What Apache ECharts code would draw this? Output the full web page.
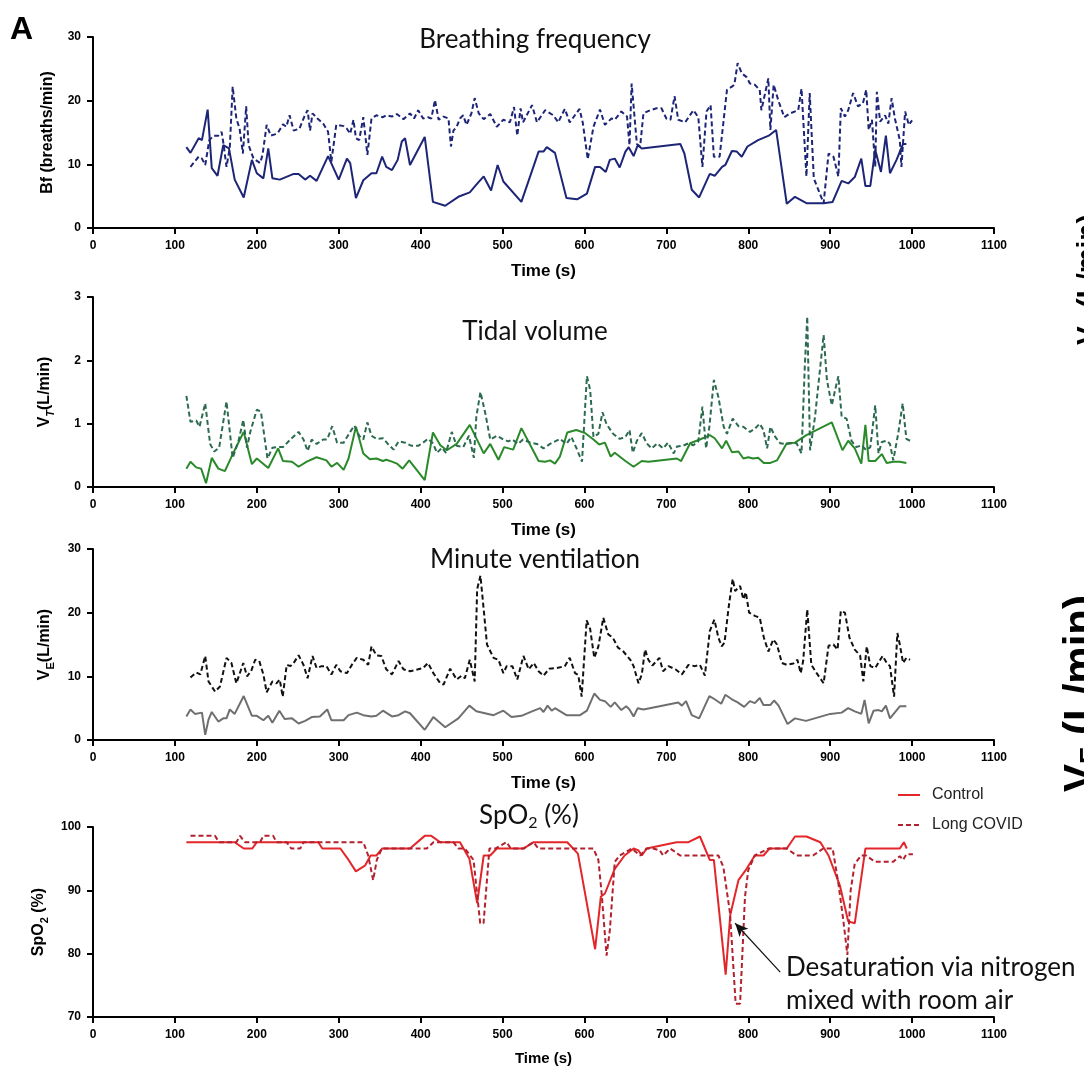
<!DOCTYPE html>
<html>
<head>
<meta charset="utf-8">
<script src="https://cdn.jsdelivr.net/npm/echarts@6/dist/echarts.min.js"></script>
<style>
  html, body { margin: 0; padding: 0; background: #fff; }
  #chart { width: 1084px; height: 1070px; }
</style>
</head>
<body>
<div id="chart"></div>
<script>
// Time axis ticks (s)
const timeTicks = [0, 100, 200, 300, 400, 500, 600, 700, 800, 900, 1000, 1100];

// Breathing frequency (breaths/min): [time s, value]
const bfControl = [[114,12.7],[119,11.8],[129,14.1],[133,13.8],[140,18.6],[145,9.4],[152,8.2],[159,13.0],[166,12.5],[173,7.6],[184,4.8],[194,10.7],[200,8.6],[208,7.8],[214,12.5],[219,7.8],[228,7.6],[245,8.5],[251,8.5],[259,7.6],[265,8.2],[273,7.4],[287,11.3],[300,7.6],[310,10.9],[314,10.2],[321,4.7],[330,7.5],[340,8.6],[346,8.6],[353,11.2],[358,9.6],[365,9.1],[372,10.7],[377,13.6],[381,14.1],[387,9.9],[405,14.3],[415,4.1],[430,3.5],[446,4.9],[460,5.6],[468,6.8],[477,8.1],[486,5.9],[494,9.9],[501,7.3],[523,4.1],[544,12.0],[550,12.0],[554,12.7],[564,11.8],[578,4.7],[591,4.5],[603,5.4],[613,9.6],[619,9.6],[626,8.8],[631,10.7],[637,10.9],[643,9.5],[650,12.0],[654,12.7],[660,11.3],[665,13.0],[670,12.5],[717,13.2],[722,11.7],[731,6.0],[740,4.8],[753,8.5],[759,8.2],[768,9.6],[772,9.9],[780,12.1],[786,12.0],[792,11.2],[799,12.8],[812,13.8],[825,14.5],[827,14.3],[834,15.4],[847,3.8],[857,4.9],[871,3.9],[892,3.9],[903,4.1],[914,7.4],[922,7.0],[930,8.0],[938,10.9],[943,6.6],[949,6.6],[955,12.3],[962,8.8],[968,14.5],[973,8.6],[981,10.7],[989,13.2],[993,13.2]];
const bfLongCovid = [[119,9.6],[129,11.2],[133,10.9],[137,9.9],[142,13.8],[147,14.5],[153,14.5],[157,15.1],[159,13.5],[163,9.6],[167,12.6],[170.5,22.2],[175,17.2],[179,15.6],[183,11.7],[187,19.1],[190,13.0],[196,10.9],[204,10.2],[207,11.5],[212,16.2],[217,14.5],[222,14.7],[226,15.0],[232,16.3],[236,15.9],[240,17.7],[245,15.3],[252,15.6],[258,17.5],[262,18.5],[265,15.3],[268,18.0],[274,17.2],[281,16.4],[287,15.1],[291,10.4],[297,16.2],[306,16.0],[310,15.6],[314,14.8],[318,17.0],[321,14.1],[325,13.8],[330,17.4],[335,11.5],[340,17.2],[346,17.7],[354,17.4],[358,17.7],[365,17.5],[371,17.9],[379,17.1],[387,18.0],[392,17.2],[397,18.5],[403,17.2],[409,17.4],[413,17.2],[417.5,20.1],[422,17.0],[428,17.5],[434,17.2],[437,12.8],[440,15.3],[444,15.9],[448,17.2],[452,17.7],[456,16.2],[462,18.0],[466,20.4],[471,18.0],[477,17.1],[485,17.9],[493,15.9],[501,17.0],[509,16.6],[514,19.0],[518,14.5],[522,18.8],[525,16.6],[536,19.3],[542,16.6],[552,18.5],[562,17.7],[568,16.6],[576,18.7],[582,16.6],[594,18.7],[598,16.5],[604,10.8],[611,15.9],[619,18.6],[625,16.2],[633,17.2],[637,17.0],[645,18.3],[652,17.5],[655,13.0],[657.6,22.7],[660,22.7],[664,13.2],[668,12.8],[672,18.0],[680,18.5],[688,18.8],[694,18.8],[700,17.2],[705,17.0],[710,20.7],[714.5,17.0],[723,16.6],[733,18.5],[739,17.4],[744,9.6],[749,18.3],[754,19.3],[758,11.2],[765,11.2],[774,21.7],[780,22.2],[783,22.5],[787,25.9],[792,24.3],[798,23.7],[802,22.7],[808,22.5],[814,21.7],[816,18.5],[824.5,23.5],[827,15.4],[831,22.5],[837,19.9],[844,17.4],[851,18.0],[861,18.5],[865,21.9],[871,8.1],[875,21.2],[880,7.8],[892,3.9],[898,11.7],[904,11.2],[910,8.1],[913,18.8],[918,17.5],[922,18.5],[928,21.2],[934,19.1],[940,19.6],[944,21.7],[947,15.4],[951,17.0],[955,9.6],[957,21.4],[961,16.7],[967,17.7],[971,16.4],[975,20.4],[979,17.2],[985,13.8],[987,9.6],[991.5,18.3],[996,16.2],[1000,16.9]];

// Tidal volume (L/min)
const vtControl = [[114,0.29],[119,0.40],[126,0.31],[132,0.29],[138,0.06],[145,0.46],[153,0.29],[161,0.25],[171,0.53],[184,0.87],[194,0.36],[200,0.45],[214,0.30],[226,0.61],[232,0.41],[243,0.40],[251,0.32],[261,0.40],[273,0.47],[285,0.42],[291,0.32],[298,0.38],[306,0.27],[312,0.45],[321,0.95],[330,0.53],[338,0.44],[346,0.45],[354,0.41],[358,0.43],[365,0.40],[371,0.37],[378,0.29],[386,0.42],[405,0.11],[415,0.86],[424,0.66],[432,0.58],[444,0.68],[460,0.98],[477,0.53],[485,0.68],[495,0.43],[502,0.63],[513,0.59],[523,0.93],[534,0.66],[544,0.41],[552,0.40],[558,0.42],[564,0.37],[570,0.48],[579,0.86],[590,0.90],[601,0.85],[611,0.75],[618,0.67],[625,0.70],[632,0.48],[637,0.54],[650,0.41],[660,0.32],[670,0.41],[678,0.40],[713,0.45],[718,0.41],[729,0.69],[741,0.75],[753,0.82],[759,0.77],[768,0.61],[773,0.73],[780,0.55],[788,0.56],[794,0.45],[800,0.47],[806,0.45],[812,0.46],[819,0.38],[827,0.38],[835,0.42],[847,0.69],[857,0.70],[871,0.82],[902,1.02],[915,0.58],[922,0.73],[930,0.61],[938,0.37],[943,0.98],[947,0.41],[955,0.41],[963,0.52],[969,0.38],[977,0.40],[985,0.40],[993,0.38]];
const vtLongCovid = [[114,1.44],[119,1.03],[126,1.05],[130,0.95],[137,1.32],[143,0.68],[148,0.56],[154,0.62],[163,1.35],[170.5,0.46],[177.5,0.72],[183.5,1.06],[188,0.62],[192,0.87],[200,1.22],[205,1.19],[213,0.45],[219,0.62],[224,0.63],[232,0.63],[241,0.75],[251,0.87],[257,0.75],[262,0.57],[267,0.75],[273,0.68],[281,0.75],[286,0.75],[292,0.96],[298,0.70],[306,0.70],[314,0.87],[319,0.97],[325,0.81],[330,0.75],[335,1.02],[340,0.81],[346,0.76],[354,0.77],[360,0.68],[367,0.59],[373,0.72],[381,0.70],[389,0.65],[397,0.65],[403,0.70],[409,0.76],[415,0.69],[420,0.54],[426,0.62],[431,0.54],[438,0.87],[444,0.65],[452,0.63],[459,0.81],[465,0.46],[468,1.11],[473,1.50],[479,1.16],[485,0.75],[493,0.81],[501,0.75],[507,0.72],[512,0.75],[519,0.68],[525,0.75],[534,0.70],[542,0.68],[550,0.61],[558,0.68],[570,0.76],[578,0.68],[584,0.79],[590,0.62],[597,0.40],[603,1.75],[607,1.53],[611,0.79],[617,0.84],[622,1.18],[627,0.99],[635,0.84],[643,0.76],[650,0.79],[655,0.90],[659,0.54],[664,0.73],[670,0.85],[676,0.69],[682,0.61],[689,0.69],[696,0.61],[702,0.70],[709,0.53],[713,0.64],[720,0.65],[727,0.69],[733,0.66],[739,0.72],[744,1.27],[748.5,0.61],[752.5,0.95],[758,1.69],[763.5,1.42],[770,0.95],[774,0.84],[781,1.08],[788,0.96],[794,0.95],[802,0.87],[808,0.92],[814,1.00],[818.5,0.90],[823,0.61],[827,0.95],[833,0.79],[839,0.69],[847,0.68],[853,0.69],[859,0.69],[865,0.53],[869,1.90],[872,2.69],[875.5,0.58],[881.5,1.11],[887.5,1.85],[892,2.40],[896,1.69],[902,1.29],[906,1.53],[910,1.75],[914,1.11],[920,1.08],[926,0.73],[932,0.63],[938.5,0.66],[944,0.58],[949,0.63],[955,1.29],[959,0.53],[963,0.71],[969,0.73],[973,0.68],[977,0.42],[983,0.84],[988.5,1.32],[993,0.76],[997.5,0.73]];

// Minute ventilation (L/min)
const veControl = [[114,3.7],[119,4.8],[124.5,4.1],[133,4.3],[137,0.8],[141,3.2],[145,4.4],[153,2.9],[159,3.4],[163,3.4],[167,4.8],[173,4.1],[184,6.9],[194,3.8],[200,3.8],[208,3.1],[214,3.8],[219,2.7],[227.5,4.6],[234,3.3],[243,3.4],[251,2.6],[259,3.0],[267,3.6],[277,3.7],[286,4.8],[291,3.1],[306,3.1],[312,3.9],[322,4.3],[330,3.9],[340,3.7],[346,3.8],[354,4.6],[365,3.7],[373,3.9],[381,4.5],[387,4.2],[405,1.6],[415.5,3.6],[430,2.0],[446,3.4],[459.5,5.4],[468,4.5],[489,3.9],[501,4.6],[511,3.6],[523,3.8],[536,4.5],[546,5.0],[550,4.4],[555,5.4],[560,4.6],[564,5.0],[578,3.9],[594.6,3.9],[603,4.6],[612,7.3],[619,6.3],[625,6.1],[632,5.2],[637,5.9],[645,4.7],[651,5.3],[655,4.8],[660,3.7],[665,5.0],[672,4.8],[714.5,5.9],[719,5.4],[724,6.1],[731,3.9],[740,3.4],[752.5,6.9],[759,6.4],[767,5.7],[772,7.1],[780,6.4],[787,5.9],[789,6.2],[795,5.2],[802,6.1],[808,5.8],[814,6.6],[818.5,5.5],[827,5.5],[831.5,6.2],[837,5.4],[848,2.5],[857,3.4],[870.5,3.0],[900,4.1],[914,4.3],[922,5.0],[930,4.5],[938,4.1],[942,6.3],[947,2.6],[953,4.6],[959,4.7],[963,4.5],[968,5.4],[973,3.4],[985,5.3],[993,5.3]];
const veLongCovid = [[119,9.8],[126,10.6],[131,10.3],[137,13.2],[141,9.2],[149,7.6],[155,8.4],[163,12.9],[169,12.1],[175,8.9],[183.5,12.1],[188,10.0],[193,10.8],[198,12.6],[203,12.4],[208,10.3],[212,7.5],[219,9.2],[224,8.9],[228,9.5],[231.6,6.8],[236.5,11.8],[241,11.6],[245,12.1],[251,13.3],[257,11.8],[262,9.7],[268,13.2],[273,11.3],[279,11.6],[285,11.6],[291,10.3],[297,11.8],[302,10.8],[310,10.5],[316,11.8],[322,12.9],[330,12.6],[336,11.8],[340,14.7],[346,13.3],[352,13.2],[358,11.1],[365,10.3],[373,12.4],[379,11.1],[387,10.8],[397,11.1],[403,11.3],[409,12.1],[415.5,10.5],[424,8.9],[428,8.7],[436,11.2],[444,9.5],[450,10.1],[454,9.7],[460,12.6],[466,9.2],[469,23.7],[473,25.8],[477,20.5],[481,15.0],[489,12.9],[495,12.6],[501,10.5],[505,11.6],[512,11.6],[518,9.5],[525.5,13.2],[532,11.1],[538,12.1],[544,10.8],[550,10.1],[557,11.2],[566,11.3],[576,11.6],[582,12.9],[588.5,10.5],[592.5,10.2],[596.6,6.8],[602.7,18.8],[607,17.4],[612,12.9],[617,14.7],[623,19.2],[629,16.6],[634.5,16.1],[641,14.5],[647.5,13.9],[656,12.6],[660,11.6],[666,8.9],[670,10.3],[674,14.2],[678,12.6],[683,11.7],[691.5,12.9],[696,10.8],[702.5,11.6],[711,11.1],[719,10.3],[727,11.8],[735,11.6],[741,11.8],[747,10.1],[753,17.1],[758.6,18.9],[763.5,16.1],[767.5,14.7],[771,15.3],[776,20.8],[778.6,23.2],[781,25.3],[784,23.4],[790,24.2],[794,22.1],[797,23.2],[801,20.0],[808,19.5],[814,19.2],[819,16.1],[824.5,13.9],[830.6,15.8],[835,15.0],[841,12.1],[847,11.8],[855,12.0],[860,12.6],[864,10.5],[867,12.4],[872,20.5],[877,11.8],[883.5,10.5],[892,8.9],[898,14.8],[904,15.0],[909,14.2],[913,20.3],[918,20.0],[923.5,16.1],[930,14.2],[936.5,13.3],[940.5,9.2],[944.6,14.7],[949,11.6],[955,11.3],[964,13.2],[969,12.1],[973,11.6],[978,6.8],[982,16.8],[985,15.0],[989,12.1],[993,12.9],[997.5,12.6]];

// SpO2 (%)
const spo2Control = [[114,97.6],[173,97.6],[184,96.6],[194.5,96.6],[200,97.6],[275,97.6],[280,96.6],[302,96.6],[312,94.8],[321,93.0],[332,93.9],[339,95.5],[346,95.5],[353,96.6],[387,96.6],[405,98.6],[413,98.6],[424,97.6],[448,97.6],[459.5,95.0],[469,88.0],[477,95.5],[485,95.5],[493,96.6],[525.5,96.6],[538,97.6],[579,97.6],[592,95.8],[613,80.7],[620,89.0],[625,89.5],[637,93.4],[649,95.5],[660,96.6],[666,96.3],[670,95.5],[676,96.6],[712.5,97.6],[727,97.6],[741,98.5],[753,94.8],[758,94.8],[772.4,76.7],[778,86.1],[788,91.6],[798,93.4],[808,95.5],[818.5,95.5],[826,96.6],[847,96.6],[857,98.5],[871,98.5],[888,97.6],[898,95.5],[912,90.7],[922,85.1],[930,84.8],[943,96.6],[985,96.6],[990,97.6],[993.5,96.6]];
const spo2LongCovid = [[119,98.6],[149,98.6],[154,97.6],[175,97.6],[179.5,98.6],[185.6,97.6],[204,97.6],[208,98.6],[220,98.6],[224,97.6],[236.5,97.6],[242,96.6],[253,96.6],[257,97.6],[330,97.6],[336,95.5],[342,91.6],[346.5,94.8],[352.6,96.6],[407.5,96.6],[415.7,97.6],[440,97.6],[446,96.6],[454,96.6],[464.6,94.8],[472.7,84.8],[476.8,84.8],[484,96.6],[491,96.6],[505,97.6],[510,96.6],[525.5,96.6],[537.7,97.6],[543.8,96.6],[610.8,96.6],[617,94.8],[621,89.5],[627,79.7],[631,83.7],[637,94.5],[643,95.5],[657.6,96.6],[668,95.5],[676,96.6],[684,96.6],[692,96.3],[696,95.5],[704.5,96.6],[710.6,96.1],[716.7,95.5],[763.5,95.5],[769.6,93.7],[777.7,86.4],[784.6,72.1],[790,72.1],[796,89.0],[800,93.2],[808,95.5],[824.5,96.6],[847,96.6],[859,95.5],[879,95.5],[891.6,96.6],[903,96.6],[910,91.1],[916,85.3],[921,79.8],[925,90.0],[930,94.2],[938,95.5],[944,95.5],[954.6,94.5],[977,94.5],[985,95.4],[989,94.8],[993,95.7],[1001,95.7]];

// Arrow from the annotation text to the deepest desaturation (time s, SpO2 %)
const arrowFrom = [839, 77.1];
const arrowTo = [784, 84.8];

const panelTitles = ['Breathing frequency', 'Tidal volume', 'Minute ventilation', '{n|SpO}{s|2}{n| (%)}'];

const chart = echarts.init(document.getElementById('chart'), null, { renderer: 'canvas' });

const tickFont = 'Liberation Sans, Arial, sans-serif';
const titleFont = 'Lato, Open Sans, sans-serif';

const grids = [
  { left: 93, top: 37, width: 901, height: 191 },
  { left: 93, top: 297, width: 901, height: 190 },
  { left: 93, top: 549, width: 901, height: 191 },
  { left: 93, top: 827, width: 901, height: 190 }
];

const axisLineStyle = { color: '#000', width: 2 };

function xAxisFor(i) {
  const nameSize = i === 3 ? 15 : 17;
  return {
    type: 'value', gridIndex: i, min: timeTicks[0], max: timeTicks[timeTicks.length - 1], interval: 100,
    name: 'Time (s)', nameLocation: 'middle', nameGap: i === 3 ? 34 : 35,
    nameTextStyle: { fontFamily: tickFont, fontWeight: 'bold', fontSize: nameSize, color: '#000' },
    axisLine: { show: true, onZero: false, lineStyle: axisLineStyle },
    axisTick: { show: true, length: 6, lineStyle: axisLineStyle },
    axisLabel: { fontFamily: tickFont, fontWeight: 'bold', fontSize: 12, color: '#000', margin: 12,
      formatter: v => String(v) },
    splitLine: { show: false }
  };
}

const subRich = {
  n: { fontFamily: tickFont, fontWeight: 'bold', fontSize: 16, color: '#000', lineHeight: 22 },
  s: { fontFamily: tickFont, fontWeight: 'bold', fontSize: 11, color: '#000', lineHeight: 11, verticalAlign: 'bottom' },
  si: { fontFamily: tickFont, fontWeight: 'bold', fontStyle: 'italic', fontSize: 11, color: '#000', lineHeight: 11, verticalAlign: 'bottom' }
};

function yAxisFor(i, min, max, interval, name) {
  return {
    type: 'value', gridIndex: i, min: min, max: max, interval: interval,
    name: name, nameLocation: 'middle', nameGap: 37, nameRotate: 90,
    nameTextStyle: { fontFamily: tickFont, fontWeight: 'bold', fontSize: 16, color: '#000', rich: subRich },
    axisLine: { show: true, onZero: false, lineStyle: axisLineStyle },
    axisTick: { show: true, length: 6, lineStyle: axisLineStyle },
    axisLabel: { fontFamily: tickFont, fontWeight: 'bold', fontSize: 12, color: '#000', margin: 12 },
    splitLine: { show: false }
  };
}

function lineSeries(name, idx, data, color, dashed) {
  return {
    name: name, type: 'line', xAxisIndex: idx, yAxisIndex: idx, data: data,
    showSymbol: false, symbol: 'none', smooth: false, silent: true,
    lineStyle: { color: color, width: 2, type: dashed ? [5, 3] : 'solid' },
    itemStyle: { color: color }
  };
}

const navy = '#1d2576';
const greenSolid = '#2a8a2a';
const greenDash = '#2c6b50';
const veDash = '#111111';
const veSolid = '#6f6f6f';
const redSolid = '#e3262a';
const redDash = '#b3202e';

const spo2ControlSeries = lineSeries('Control', 3, spo2Control, redSolid, false);
spo2ControlSeries.markLine = {
  silent: true, animation: false,
  symbol: ['none', 'arrow'], symbolSize: [9, 13],
  lineStyle: { color: '#111', width: 1.2, type: 'solid' },
  label: { show: false },
  data: [[{ coord: arrowFrom }, { coord: arrowTo }]]
};

const titleXs = [535, 535, 535, 529];
const titleYs = [40, 332, 560, 816];
const titleGraphics = panelTitles.map((t, i) => ({
  type: 'text', x: titleXs[i], y: titleYs[i],
  style: {
    text: t, align: 'center', verticalAlign: 'middle',
    fontFamily: titleFont, fontSize: 26, fill: '#111',
    rich: {
      n: { fontFamily: titleFont, fontSize: 26, fill: '#111', lineHeight: 30 },
      s: { fontFamily: titleFont, fontSize: 16, fill: '#111', lineHeight: 13, verticalAlign: 'bottom' }
    }
  }
}));

const clippedRich = (size, sub) => ({
  b: { fontFamily: tickFont, fontWeight: 'bold', fontSize: size, fill: '#000', lineHeight: size + 4 },
  bs: { fontFamily: tickFont, fontWeight: 'bold', fontSize: sub, fill: '#000', lineHeight: sub - 4, verticalAlign: 'bottom' }
});

const option = {
  animation: false,
  backgroundColor: '#fff',
  grid: grids,
  xAxis: [0, 1, 2, 3].map(xAxisFor),
  yAxis: [
    yAxisFor(0, 0, 30, 10, 'Bf (breaths/min)'),
    yAxisFor(1, 0, 3, 1, '{n|V}{si|T}{n|(L/min)}'),
    yAxisFor(2, 0, 30, 10, '{n|V}{s|E}{n|(L/min)}'),
    yAxisFor(3, 70, 100, 10, '{n|SpO}{s|2}{n| (%)}')
  ],
  legend: {
    data: ['Control', 'Long COVID'],
    orient: 'vertical', left: 892, top: 782,
    itemWidth: 22, itemHeight: 14, itemGap: 14,
    selectedMode: false,
    itemStyle: { opacity: 0 },
    textStyle: { fontFamily: tickFont, fontSize: 16, color: '#222', padding: [0, 0, 0, 7] }
  },
  series: [
    lineSeries('Bf control', 0, bfControl, navy, false),
    lineSeries('Bf long COVID', 0, bfLongCovid, navy, true),
    lineSeries('VT control', 1, vtControl, greenSolid, false),
    lineSeries('VT long COVID', 1, vtLongCovid, greenDash, true),
    lineSeries('VE control', 2, veControl, veSolid, false),
    lineSeries('VE long COVID', 2, veLongCovid, veDash, true),
    spo2ControlSeries,
    lineSeries('Long COVID', 3, spo2LongCovid, redDash, true)
  ],
  graphic: titleGraphics.concat([
    { type: 'text', x: 10, y: 14, style: { text: 'A', fontFamily: tickFont, fontWeight: 'bold', fontSize: 32, fill: '#000' } },
    {
      type: 'text', x: 786, y: 951,
      style: { text: 'Desaturation via nitrogen\nmixed with room air', fontFamily: titleFont, fontSize: 26, lineHeight: 33, fill: '#111', verticalAlign: 'top' }
    },
    // neighbouring panel axis titles, clipped by the right edge
    {
      type: 'text', x: 1072, y: 345, rotation: Math.PI / 2,
      style: { text: '{b|V}{bs|T}{b| (L/min)}', align: 'left', verticalAlign: 'top', rich: clippedRich(28, 18) }
    },
    {
      type: 'text', x: 1058, y: 792, rotation: Math.PI / 2,
      style: { text: '{b|V}{bs|E}{b| (L/min)}', align: 'left', verticalAlign: 'top', rich: clippedRich(42, 26) }
    }
  ])
};

chart.setOption(option);
</script>
</body>
</html>
